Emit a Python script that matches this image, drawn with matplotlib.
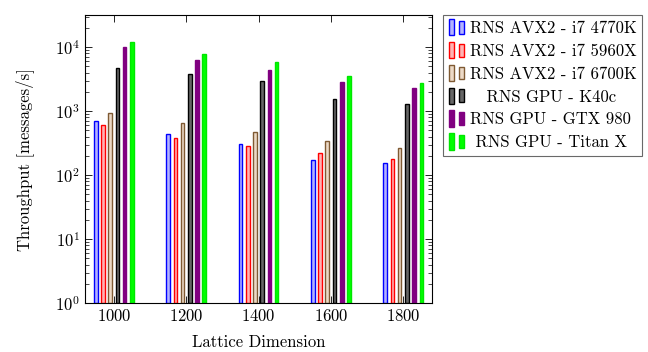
import matplotlib
matplotlib.use("Agg")
import matplotlib.pyplot as plt
import numpy as np
from matplotlib.patches import Rectangle
from matplotlib.legend_handler import HandlerBase
from matplotlib.ticker import LogLocator, NullFormatter

plt.rcParams['font.family'] = 'serif'
plt.rcParams['font.serif'] = ['cmr10']
plt.rcParams['mathtext.fontset'] = 'cm'
plt.rcParams['axes.formatter.use_mathtext'] = True
plt.rcParams['axes.unicode_minus'] = False

dims = [1000, 1200, 1400, 1600, 1800]
labels = ['RNS AVX2 - i7 4770K', 'RNS AVX2 - i7 5960X', 'RNS AVX2 - i7 6700K',
          '   RNS GPU - K40c', 'RNS GPU - GTX 980', ' RNS GPU - Titan X']
avx_4770k = [690, 432, 301, 170, 152]
avx_5960x = [597, 378, 284, 221, 180]
avx_6700k = [940, 641, 465, 340, 267]
gpu_k40c = [4700, 3740, 2910, 1520, 1270]
gpu_gtx980 = [9890, 6200, 4420, 2810, 2260]
gpu_titanx = [12100, 7870, 5760, 3480, 2710]
series = [avx_4770k, avx_5960x, avx_6700k, gpu_k40c, gpu_gtx980, gpu_titanx]

edges = ['#0000ff', '#ff0000', '#7f5a33', '#000000', '#800080', '#00e600']
fills = ['#b3b3ff', '#ffb3b3', '#ecd9c6', '#666666', '#800080', '#00ff00']

offsets = [-50, -30, -10, 10, 30, 50]
width = 10


class TwoBars(HandlerBase):
    def __init__(self, fc, ec):
        super().__init__()
        self.fc, self.ec = fc, ec

    def create_artists(self, legend, orig, xd, yd, w, h, fs, trans):
        bw = w * 0.28
        r1 = Rectangle((xd, yd - h * 0.2), bw, h * 1.4, fc=self.fc, ec=self.ec,
                       lw=1, transform=trans)
        r2 = Rectangle((xd + w * 0.62, yd - h * 0.05), bw, h * 1.1, fc=self.fc,
                       ec=self.ec, lw=1, transform=trans)
        return [r1, r2]


fig = plt.figure(figsize=(6.48, 3.52), dpi=100)
ax = fig.add_axes([0.131, 0.139, 0.536, 0.818])

x = np.array(dims)
handles = []
for vals, off, fc, ec in zip(series, offsets, fills, edges):
    b = ax.bar(x + off, vals, width=width, bottom=1, color=fc, edgecolor=ec,
               linewidth=1, zorder=2)
    handles.append(b)

ax.set_yscale('log')
ax.set_ylim(1, 10 ** 4.5)
ax.set_xlim(920, 1880)
ax.set_xticks(dims)
ax.yaxis.set_major_locator(LogLocator(base=10, numticks=10))
ax.yaxis.set_minor_locator(LogLocator(base=10, subs=np.arange(2, 10), numticks=10))
ax.yaxis.set_minor_formatter(NullFormatter())
ax.tick_params(which='both', direction='in', top=True, right=True, labelsize=12)
ax.tick_params(which='major', length=5, width=0.6)
ax.tick_params(which='minor', length=3, width=0.5)
for s in ax.spines.values():
    s.set_linewidth(0.8)

ax.set_xlabel('Lattice Dimension', fontsize=12, labelpad=8)
ax.set_ylabel('Throughput [messages/s]', fontsize=12, labelpad=15)

hmap = {h: TwoBars(fc, ec) for h, fc, ec in zip(handles, fills, edges)}
leg = fig.legend(handles, labels, handler_map=hmap, loc='upper left',
                 bbox_to_anchor=(443 / 648, 337 / 352), fontsize=12,
                 frameon=True, fancybox=False, edgecolor='#444444',
                 handlelength=1.0, handletextpad=0.25, labelspacing=0.45,
                 borderpad=0.35, borderaxespad=0)
leg.get_frame().set_linewidth(0.8)

fig.savefig('out.png', dpi=100)
